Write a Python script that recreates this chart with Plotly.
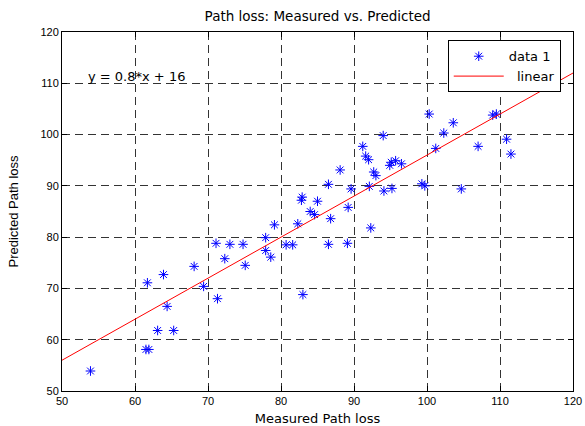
import plotly.graph_objects as go

measured = [53.9, 61.5, 61.9, 61.7, 63.1, 63.9, 64.4, 65.3, 68.1, 69.4,
            71.1, 71.3, 72.3, 73.0, 74.8, 75.1, 77.9, 77.9, 78.6, 79.1,
            80.7, 81.6, 82.3, 82.8, 82.9, 83.0, 84.0, 84.6, 85.0, 86.5,
            86.8, 86.5, 88.1, 89.1, 89.2, 89.6, 91.2, 91.6, 92.0, 92.1,
            92.3, 92.7, 93.0, 94.0, 94.1, 95.2, 94.9, 95.1, 95.7, 96.5,
            99.3, 99.7, 100.3, 101.2, 102.3, 103.6, 104.7, 107.0, 109.0, 109.5,
            110.9, 111.5]
predicted = [53.9, 58.1, 58.1, 71.1, 61.8, 72.7, 66.5, 61.8, 74.3, 70.4,
             78.8, 68.0, 75.8, 78.6, 78.6, 74.5, 79.9, 77.4, 76.1, 82.4,
             78.5, 78.5, 82.6, 87.2, 87.8, 68.8, 85.0, 84.4, 87.0, 78.6,
             83.6, 90.3, 93.1, 78.8, 85.8, 89.4, 97.7, 95.8, 95.1, 89.9,
             81.8, 92.7, 92.0, 99.8, 89.0, 89.5, 94.0, 94.6, 94.9, 94.3,
             90.4, 90.0, 104.0, 97.3, 100.3, 102.3, 89.4, 97.7, 103.8, 104.0,
             99.1, 96.2]

slope = 0.8
intercept = 16
x_range = [50, 120]
y_range = [50, 120]
x_ticks = [50, 60, 70, 80, 90, 100, 110, 120]
y_ticks = [50, 60, 70, 80, 90, 100, 110, 120]

fit_x = x_range
fit_y = [slope * v + intercept for v in fit_x]

sans = "Liberation Sans, Arial, sans-serif"
wide = "DejaVu Sans, sans-serif"

fig = go.Figure()
fig.add_trace(go.Scatter(
    x=measured, y=predicted, mode="markers", name="data 1",
    marker=dict(symbol="asterisk-open", size=8, color="blue",
                line=dict(color="blue", width=1)),
))
fig.add_trace(go.Scatter(
    x=fit_x, y=fit_y, mode="lines", name="  linear",
    line=dict(color="red", width=1),
))

axis_common = dict(
    showline=True, linecolor="black", linewidth=1, mirror="allticks",
    ticks="inside", ticklen=5, tickcolor="black",
    showgrid=True, gridcolor="#333333", gridwidth=1, griddash="8px,5px",
    zeroline=False, tickfont=dict(family=sans, size=11, color="black"), automargin=False,
)

fig.update_xaxes(range=x_range, tickvals=x_ticks,
                 title=dict(text="Measured Path loss", font=dict(family=wide, size=13, color="black"), standoff=8),
                 **axis_common)
fig.update_yaxes(range=y_range, tickvals=y_ticks,
                 title=dict(text="Predicted Path loss", font=dict(family=sans, size=13, color="black"), standoff=18),
                 **axis_common)

fig.add_annotation(x=53.3, y=111.3, xref="x", yref="y", text="y = 0.8*x + 16",
                   showarrow=False, xanchor="left", yanchor="middle",
                   font=dict(family=wide, size=13, color="black"), bgcolor="rgba(0,0,0,0)")

fig.update_layout(
    width=585, height=426,
    margin=dict(l=62, r=12, t=32, b=35),
    paper_bgcolor="white", plot_bgcolor="white",
    font=dict(family=sans, size=12, color="black"),
    title=dict(text="Path loss: Measured vs. Predicted", x=0.543, xanchor="center",
               y=0.962, yanchor="middle", font=dict(family=wide, size=13.5, color="black")),
    legend=dict(x=0.976, y=0.977, xanchor="right", yanchor="top",
                bgcolor="white", bordercolor="black", borderwidth=1,
                font=dict(family=wide, size=13, color="black"), tracegroupgap=0,
                itemwidth=50),
    showlegend=True,
)

fig.write_html("out.html", config={"displayModeBar": False},
               post_script="document.body.style.margin='0';document.body.style.overflow='hidden';")
